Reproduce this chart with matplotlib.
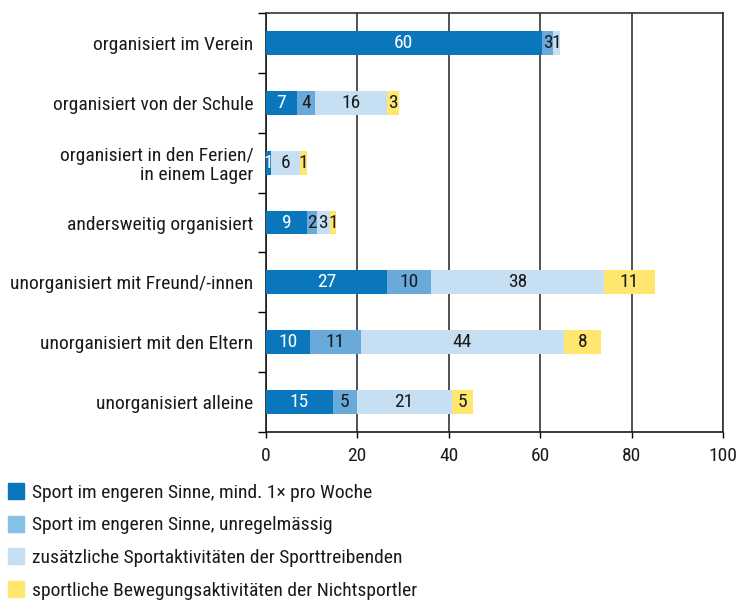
import matplotlib
matplotlib.use("Agg")
import matplotlib.pyplot as plt
from matplotlib.lines import Line2D
import numpy as np

plt.rcParams['font.family'] = ['Roboto Condensed', 'DejaVu Sans']

categories = ["organisiert im Verein", "organisiert von der Schule",
              "organisiert in den Ferien/\nin einem Lager", "andersweitig organisiert",
              "unorganisiert mit Freund/-innen", "unorganisiert mit den Eltern",
              "unorganisiert alleine"]
series_names = ["Sport im engeren Sinne, mind. 1\u00d7 pro Woche",
                "Sport im engeren Sinne, unregelmässig",
                "zusätzliche Sportaktivitäten der Sporttreibenden",
                "sportliche Bewegungsaktivitäten der Nichtsportler"]
s1 = [60.3, 6.8, 1.3, 9.1, 26.6, 9.7, 14.7]
s2 = [2.6, 4.0, 0.0, 2.2, 9.6, 11.1, 5.2]
s3 = [1.4, 15.8, 6.3, 2.7, 37.8, 44.4, 20.8]
s4 = [0.0, 2.6, 1.4, 1.4, 11.0, 8.1, 4.7]
x_ticks = [0, 20, 40, 60, 80, 100]

colors = ["#0a77bd", "#6aaadb", "#c6dff2", "#ffe66e"]
legend_colors = ["#0a77bd", "#86c0e6", "#c6dff2", "#ffe66e"]
text_colors = ["white", "#1a1a1a", "#1a1a1a", "#1a1a1a"]
FS = 14

fig = plt.figure(figsize=(7.38, 6.06), dpi=100)
ax = fig.add_axes([265.5/738, 1-432/606, (723.3-265.5)/738, (432-13)/606])

y = np.arange(len(categories))
left = np.zeros(len(categories))
for vals, c, tc in zip([s1, s2, s3, s4], colors, text_colors):
    vals = np.array(vals, dtype=float)
    ax.barh(y, vals, left=left, height=0.4, color=c, zorder=3)
    for yi, v, l in zip(y, vals, left):
        if v > 0:
            ax.text(l + v/2, yi, f"{int(round(v))}", ha='center', va='center',
                    color=tc, fontsize=FS, zorder=4)
    left += vals

ax.set_xlim(0, 100)
ax.set_ylim(len(categories)-0.5, -0.5)
ax.set_xticks(x_ticks)
ax.set_xticklabels([str(t) for t in x_ticks], fontsize=FS, color="#1a1a1a")
ax.set_yticks(np.arange(-0.5, len(categories)))
ax.set_yticklabels([])
ax.set_yticks(y, minor=True)
ax.set_yticklabels(categories, minor=True, fontsize=FS, color="#1a1a1a",
                   linespacing=1.1)
ax.tick_params(axis='y', which='minor', length=0, pad=8.5)
ax.tick_params(axis='y', which='major', length=6, direction='out', width=1)
ax.tick_params(axis='x', length=4, direction='out', width=1, pad=7)
ax.grid(axis='x', color='#333333', linewidth=1.2, zorder=1)
for s in ['left', 'bottom']:
    ax.spines[s].set_linewidth(1.2)
    ax.spines[s].set_color('#1a1a1a')
for s in ['top', 'right']:
    ax.spines[s].set_linewidth(1.2)
    ax.spines[s].set_color('#333333')

handles = [Line2D([0], [0], marker='s', linestyle='none', markersize=11,
                  markerfacecolor=c, markeredgecolor=c) for c in legend_colors]
fig.legend(handles, series_names, loc='upper left', bbox_to_anchor=(-0.002, 1-476/606),
           frameon=False, fontsize=14, handlelength=1.0, handletextpad=0.3,
           labelspacing=0.75, borderaxespad=0, labelcolor="#1a1a1a")

fig.savefig("out.png", dpi=100)
